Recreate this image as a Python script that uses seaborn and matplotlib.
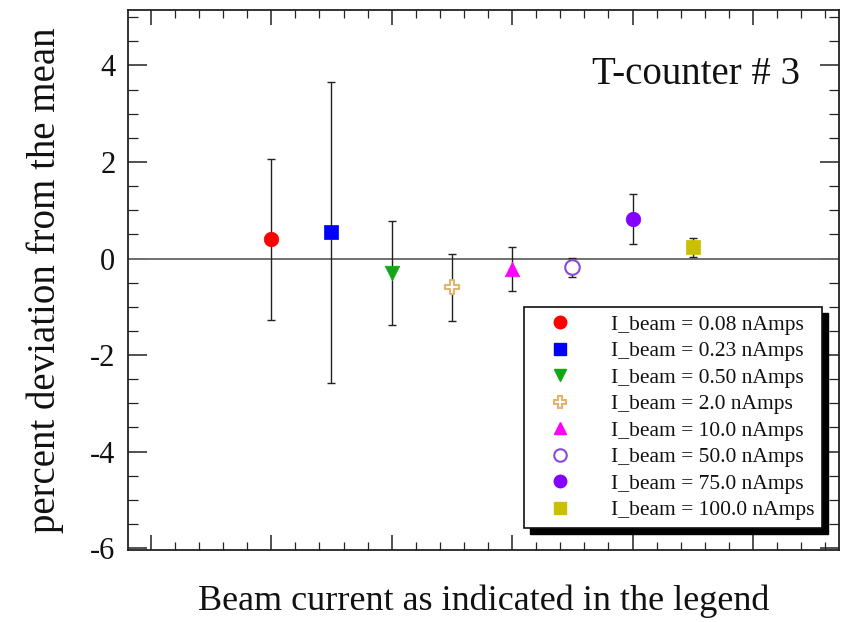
import matplotlib
matplotlib.use("Agg")
import matplotlib.pyplot as plt
import seaborn as sns
import pandas as pd
from matplotlib.lines import Line2D
from matplotlib.patches import Rectangle
from matplotlib.ticker import MultipleLocator
from matplotlib.transforms import IdentityTransform

# ---- data ----
labels = ["I_beam = 0.08 nAmps", "I_beam = 0.23 nAmps", "I_beam = 0.50 nAmps",
          "I_beam = 2.0 nAmps", "I_beam = 10.0 nAmps", "I_beam = 50.0 nAmps",
          "I_beam = 75.0 nAmps", "I_beam = 100.0 nAmps"]
xpos = [2, 3, 4, 5, 6, 7, 8, 9]
yvals = [0.40, 0.54, -0.30, -0.60, -0.22, -0.18, 0.82, 0.23]
yerrs = [1.67, 3.12, 1.07, 0.70, 0.45, 0.20, 0.51, 0.20]
colors = ["#ff0000", "#0000ff", "#12a812", "#e2b470", "#ff00ff", "#8a4ad8", "#8400ff", "#c8c000"]
markers = ["o", "s", "v", "P", "^", "o", "o", "s"]
filled = [True, True, True, False, True, False, True, True]

sns.set_theme(style="white")
plt.rcParams["font.family"] = ["Liberation Serif", "DejaVu Serif"]
plt.rcParams["axes.unicode_minus"] = False
plt.rcParams["text.color"] = "#111111"
plt.rcParams["axes.labelcolor"] = "#111111"
plt.rcParams["ytick.color"] = "#111111"
plt.rcParams["xtick.color"] = "#111111"

fig = plt.figure(figsize=(8.41, 6.22), dpi=100)
ax = fig.add_axes([128 / 841, 1 - 550 / 622, (839 - 128) / 841, 540 / 622])

df = pd.DataFrame({"x": xpos, "y": yvals, "err": yerrs, "label": labels})

# zero line
ax.axhline(0, color="#707070", lw=1.4, zorder=1)

# error bars
ax.errorbar(df["x"], df["y"], yerr=df["err"], fmt="none", ecolor="#222222",
            elinewidth=1.0, capsize=3, capthick=1.0, zorder=2)

# markers
handles = []
for i in range(len(df)):
    sub = df.iloc[[i]]
    if filled[i]:
        sns.scatterplot(data=sub, x="x", y="y", marker=markers[i], color=colors[i],
                        s=110, edgecolor=colors[i], linewidth=0.5, ax=ax, zorder=3, legend=False)
        handles.append(Line2D([], [], ls="none", marker=markers[i], color=colors[i],
                              markerfacecolor=colors[i], markeredgecolor=colors[i], markersize=9))
    else:
        sns.scatterplot(data=sub, x="x", y="y", marker=markers[i], facecolor="white",
                        edgecolor=colors[i], s=110, linewidth=1.5, ax=ax, zorder=3, legend=False)
        handles.append(Line2D([], [], ls="none", marker=markers[i], color=colors[i],
                              markerfacecolor="white", markeredgecolor=colors[i],
                              markeredgewidth=1.5, markersize=9))

ax.set_xlim(-0.38, 11.43)
ax.set_ylim(-6.04, 5.15)
ax.xaxis.set_major_locator(MultipleLocator(2))
ax.xaxis.set_minor_locator(MultipleLocator(0.4))
ax.yaxis.set_major_locator(MultipleLocator(2))
ax.yaxis.set_minor_locator(MultipleLocator(0.5))
ax.set_xticklabels([])
ax.tick_params(axis="x", which="both", direction="in", top=True, bottom=True,
               labelbottom=False, color="#222222")
ax.tick_params(axis="x", which="major", length=11, width=1.1)
ax.tick_params(axis="x", which="minor", length=5.5, width=0.9)
ax.tick_params(axis="y", which="both", direction="in", left=True, right=True,
               color="#222222", labelsize=22, pad=9)
ax.tick_params(axis="y", which="major", length=14, width=1.1)
ax.tick_params(axis="y", which="minor", length=7, width=0.9)
for sp in ax.spines.values():
    sp.set_color("#222222")
    sp.set_linewidth(1.3)

ax.set_xlabel("Beam current as indicated in the legend", fontsize=26, labelpad=25)
ax.set_ylabel("percent deviation from the mean", fontsize=28, labelpad=19)
ax.text(0.945, 0.88, "T-counter # 3", transform=ax.transAxes, ha="right",
        va="center", fontsize=28)

leg = ax.legend(handles, labels, loc="lower right", bbox_to_anchor=(0.976, 0.041),
                fontsize=15.5, frameon=True, fancybox=False, framealpha=1,
                borderpad=0.35, labelspacing=0.3, handletextpad=1.0, handlelength=2.7,
                borderaxespad=0)
leg.get_frame().set_edgecolor("#111111")
leg.get_frame().set_facecolor("white")
leg.get_frame().set_linewidth(1.2)
leg.set_zorder(6)

fig.canvas.draw()
bb = leg.get_window_extent()
shadow = Rectangle((bb.x0 + 6, bb.y0 - 6), bb.width, bb.height, transform=IdentityTransform(),
                   facecolor="black", edgecolor="black", zorder=5.5, clip_on=False)
ax.add_patch(shadow)

fig.savefig("out.png", dpi=100)
